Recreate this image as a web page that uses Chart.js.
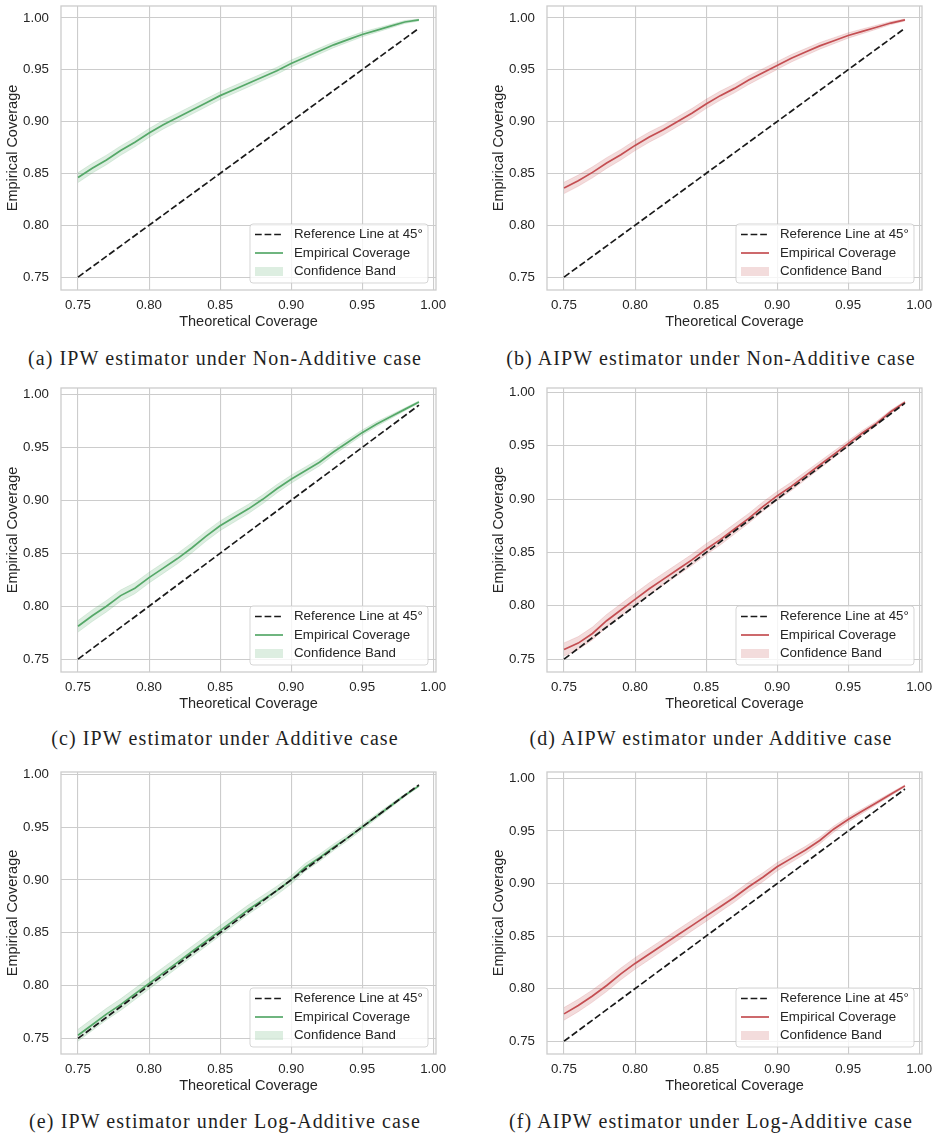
<!DOCTYPE html>
<html>
<head>
<meta charset="utf-8">
<script src="https://cdn.jsdelivr.net/npm/chart.js@4.4.1/dist/chart.umd.min.js"></script>
<style>
  body { margin: 0; background: #fff; }
  #page { position: relative; width: 939px; height: 1140px; overflow: hidden; }
  canvas { position: absolute; }
  .caption {
    position: absolute; width: 450px; text-align: center; white-space: nowrap;
    font-family: 'Liberation Serif', serif; font-size: 20px; line-height: 20px;
    letter-spacing: 1.1px; color: #1f1f1f;
  }
</style>
</head>
<body>
<div id="page">
  <canvas id="chartA" width="450" height="335" style="left:0;top:0"></canvas>
  <canvas id="chartB" width="450" height="335" style="left:486px;top:0"></canvas>
  <canvas id="chartC" width="450" height="335" style="left:0;top:382px"></canvas>
  <canvas id="chartD" width="450" height="335" style="left:486px;top:382px"></canvas>
  <canvas id="chartE" width="450" height="333" style="left:0;top:766px"></canvas>
  <canvas id="chartF" width="450" height="333" style="left:486px;top:766px"></canvas>
  <div class="caption" style="left:0;top:348px">(a) IPW estimator under Non-Additive case</div>
  <div class="caption" style="left:486px;top:348px">(b) AIPW estimator under Non-Additive case</div>
  <div class="caption" style="left:0;top:728px">(c) IPW estimator under Additive case</div>
  <div class="caption" style="left:486px;top:728px">(d) AIPW estimator under Additive case</div>
  <div class="caption" style="left:0;top:1111px">(e) IPW estimator under Log-Additive case</div>
  <div class="caption" style="left:486px;top:1111px">(f) AIPW estimator under Log-Additive case</div>
</div>
<script>
// theoretical coverage levels (x axis)
const theoretical = [0.75, 0.76, 0.77, 0.78, 0.79, 0.80, 0.81, 0.82, 0.83, 0.84, 0.85, 0.86, 0.87,
                     0.88, 0.89, 0.90, 0.91, 0.92, 0.93, 0.94, 0.95, 0.96, 0.97, 0.98, 0.99];
const refX = [0.75, 0.99];
const refY = [0.75, 0.99];
const xTicks = [0.75, 0.80, 0.85, 0.90, 0.95, 1.00];
const yTicks = [0.75, 0.80, 0.85, 0.90, 0.95, 1.00];

// empirical coverage + half width of the confidence band, per panel
const ipwNonAdd = [0.846, 0.855, 0.863, 0.872, 0.880, 0.889, 0.897, 0.904, 0.911, 0.918, 0.925, 0.931, 0.937,
                   0.943, 0.949, 0.956, 0.962, 0.968, 0.974, 0.979, 0.984, 0.988, 0.992, 0.996, 0.998];
const ipwNonAddHalf = [0.0048, 0.0047, 0.0046, 0.0045, 0.0044, 0.0043, 0.0042, 0.0041, 0.0040, 0.0039, 0.0038, 0.0037, 0.0036,
                       0.0035, 0.0034, 0.0033, 0.0031, 0.0029, 0.0027, 0.0025, 0.0023, 0.0020, 0.0017, 0.0014, 0.0010];

const aipwNonAdd = [0.836, 0.843, 0.851, 0.860, 0.868, 0.877, 0.885, 0.892, 0.900, 0.908, 0.917, 0.925, 0.932,
                    0.940, 0.947, 0.954, 0.961, 0.967, 0.973, 0.978, 0.983, 0.987, 0.991, 0.995, 0.998];
const aipwNonAddHalf = [0.0055, 0.0054, 0.0053, 0.0052, 0.0051, 0.0050, 0.0049, 0.0048, 0.0047, 0.0046, 0.0045, 0.0044, 0.0043,
                        0.0042, 0.0040, 0.0038, 0.0036, 0.0034, 0.0032, 0.0029, 0.0026, 0.0023, 0.0019, 0.0015, 0.0010];

const ipwAdd = [0.781, 0.791, 0.800, 0.810, 0.817, 0.827, 0.836, 0.845, 0.855, 0.866, 0.876, 0.884, 0.892,
                0.901, 0.911, 0.920, 0.928, 0.936, 0.946, 0.955, 0.964, 0.972, 0.979, 0.986, 0.993];
const ipwAddHalf = [0.0055, 0.0055, 0.0054, 0.0053, 0.0052, 0.0051, 0.0050, 0.0049, 0.0048, 0.0047, 0.0046, 0.0045, 0.0044,
                    0.0042, 0.0040, 0.0038, 0.0036, 0.0034, 0.0031, 0.0028, 0.0025, 0.0022, 0.0018, 0.0014, 0.0010];

const aipwAdd = [0.759, 0.765, 0.774, 0.786, 0.796, 0.806, 0.816, 0.825, 0.834, 0.843, 0.853, 0.862, 0.872,
                 0.882, 0.893, 0.903, 0.912, 0.922, 0.932, 0.942, 0.952, 0.962, 0.971, 0.982, 0.991];
const aipwAddHalf = [0.0062, 0.0061, 0.0060, 0.0059, 0.0058, 0.0057, 0.0056, 0.0055, 0.0054, 0.0053, 0.0052, 0.0050, 0.0048,
                     0.0046, 0.0044, 0.0042, 0.0040, 0.0037, 0.0034, 0.0031, 0.0028, 0.0024, 0.0020, 0.0016, 0.0011];

const ipwLogAdd = [0.753, 0.763, 0.773, 0.782, 0.792, 0.802, 0.812, 0.822, 0.832, 0.842, 0.852, 0.862, 0.872,
                   0.881, 0.890, 0.900, 0.912, 0.921, 0.931, 0.940, 0.950, 0.960, 0.970, 0.980, 0.989];
const ipwLogAddHalf = [0.0056, 0.0056, 0.0055, 0.0055, 0.0054, 0.0053, 0.0052, 0.0051, 0.0050, 0.0049, 0.0048, 0.0047, 0.0045,
                       0.0043, 0.0041, 0.0039, 0.0037, 0.0034, 0.0031, 0.0028, 0.0025, 0.0022, 0.0018, 0.0014, 0.0010];

const aipwLogAdd = [0.776, 0.784, 0.793, 0.803, 0.814, 0.824, 0.833, 0.842, 0.851, 0.860, 0.869, 0.878, 0.887,
                    0.897, 0.906, 0.916, 0.924, 0.932, 0.941, 0.952, 0.961, 0.969, 0.977, 0.985, 0.993];
const aipwLogAddHalf = [0.0060, 0.0059, 0.0058, 0.0057, 0.0056, 0.0055, 0.0054, 0.0053, 0.0052, 0.0051, 0.0050, 0.0048, 0.0046,
                        0.0044, 0.0042, 0.0040, 0.0038, 0.0035, 0.0032, 0.0029, 0.0026, 0.0022, 0.0018, 0.0014, 0.0010];

Chart.defaults.font.family = "'Liberation Sans', Arial, sans-serif";
Chart.defaults.color = '#262626';

const GREEN = '#55a868';
const RED = '#c44e52';
const GREEN_BAND = 'rgba(85, 168, 104, 0.2)';
const RED_BAND = 'rgba(196, 78, 82, 0.2)';

// light grey box round the plot area, like the seaborn whitegrid spines
const framePlugin = {
    id: 'frame',
    beforeDatasetsDraw(chart) {
        const { ctx, chartArea: a } = chart;
        ctx.save();
        ctx.strokeStyle = '#cccccc';
        ctx.lineWidth = 1.3;
        ctx.strokeRect(a.left, a.top, a.right - a.left, a.bottom - a.top);
        ctx.restore();
    }
};

// matplotlib style legend in the lower right corner
const boxLegend = {
    id: 'boxLegend',
    afterDraw(chart) {
        const { ctx, chartArea: a } = chart;
        const w = 178, h = 59;
        const left = a.right - 8 - w;
        const top = a.bottom - 7 - h;
        ctx.save();
        ctx.beginPath();
        ctx.roundRect(left, top, w, h, 3);
        ctx.fillStyle = 'rgba(255, 255, 255, 0.8)';
        ctx.fill();
        ctx.strokeStyle = 'rgba(204, 204, 204, 0.8)';
        ctx.lineWidth = 1;
        ctx.stroke();

        const items = chart.data.datasets.filter(d => d.label);
        items.forEach((d, i) => {
            const y = top + 10.5 + i * 18.5;
            if (d.fill) {
                ctx.fillStyle = d.backgroundColor;
                ctx.fillRect(left + 5, y - 4.5, 28, 9);
            } else {
                ctx.beginPath();
                ctx.setLineDash(d.borderDash || []);
                ctx.strokeStyle = d.borderColor;
                ctx.lineWidth = d.borderWidth;
                ctx.moveTo(left + 5, y);
                ctx.lineTo(left + 33, y);
                ctx.stroke();
                ctx.setLineDash([]);
            }
            ctx.fillStyle = '#262626';
            ctx.font = "13.3px 'Liberation Sans', Arial, sans-serif";
            ctx.textBaseline = 'middle';
            ctx.textAlign = 'left';
            ctx.fillText(d.label, left + 44, y);
        });
        ctx.restore();
    }
};

function makePanel(id, empirical, half, color, band) {
    const lower = empirical.map((v, i) => v - half[i]);
    const upper = empirical.map((v, i) => v + half[i]);
    const pts = ys => ys.map((v, i) => ({ x: theoretical[i], y: v }));

    // axis limits with a 5% margin, as matplotlib does
    const all = lower.concat(upper, refY);
    const yLo = Math.min(...all), yHi = Math.max(...all);
    const yPad = (yHi - yLo) * 0.05;
    const xLo = theoretical[0], xHi = theoretical[theoretical.length - 1];
    const xPad = (xHi - xLo) * 0.05;

    return new Chart(document.getElementById(id), {
        type: 'line',
        data: {
            datasets: [
                {
                    label: 'Reference Line at 45°',
                    data: refX.map((x, i) => ({ x: x, y: refY[i] })),
                    borderColor: '#1a1a1a',
                    borderWidth: 1.7,
                    borderDash: [6.7, 2.9],
                    pointRadius: 0,
                    fill: false
                },
                {
                    label: 'Empirical Coverage',
                    data: pts(empirical),
                    borderColor: color,
                    borderWidth: 1.7,
                    pointRadius: 0,
                    fill: false
                },
                {
                    label: '',
                    data: pts(lower),
                    borderColor: band,
                    borderWidth: 0.8,
                    pointRadius: 0,
                    fill: false
                },
                {
                    label: 'Confidence Band',
                    data: pts(upper),
                    borderColor: band,
                    backgroundColor: band,
                    borderWidth: 0.8,
                    pointRadius: 0,
                    fill: '-1'
                }
            ]
        },
        options: {
            responsive: false,
            animation: false,
            devicePixelRatio: 1,
            layout: { padding: { top: 6, right: 14, bottom: 0, left: 0 } },
            elements: { line: { tension: 0 } },
            plugins: { legend: { display: false }, tooltip: { enabled: false } },
            scales: {
                x: {
                    type: 'linear',
                    min: xLo - xPad,
                    max: xHi + xPad,
                    afterBuildTicks: s => { s.ticks = xTicks.map(v => ({ value: v })); },
                    afterFit: s => { s.height = 45; s.paddingLeft = 0; s.paddingRight = 0; },
                    ticks: {
                        autoSkip: false, maxRotation: 0, padding: 7,
                        font: { size: 13.3 },
                        callback: v => Number(v).toFixed(2)
                    },
                    grid: { color: '#cccccc', lineWidth: 1.1, drawTicks: false },
                    border: { display: false },
                    title: {
                        display: true, text: 'Theoretical Coverage',
                        font: { size: 14.5 }, padding: { top: 0, bottom: 4.8 }
                    }
                },
                y: {
                    type: 'linear',
                    min: yLo - yPad,
                    max: yHi + yPad,
                    afterBuildTicks: s => { s.ticks = yTicks.map(v => ({ value: v })); },
                    afterFit: s => { s.width = 61; s.paddingTop = 0; s.paddingBottom = 0; },
                    ticks: {
                        autoSkip: false, padding: 12,
                        font: { size: 13.3 },
                        callback: v => Number(v).toFixed(2)
                    },
                    grid: { color: '#cccccc', lineWidth: 1.1, drawTicks: false },
                    border: { display: false },
                    title: {
                        display: true, text: 'Empirical Coverage',
                        font: { size: 14.5 }, padding: { top: 4.2, bottom: 0 }
                    }
                }
            }
        },
        plugins: [framePlugin, boxLegend]
    });
}

makePanel('chartA', ipwNonAdd, ipwNonAddHalf, GREEN, GREEN_BAND);
makePanel('chartB', aipwNonAdd, aipwNonAddHalf, RED, RED_BAND);
makePanel('chartC', ipwAdd, ipwAddHalf, GREEN, GREEN_BAND);
makePanel('chartD', aipwAdd, aipwAddHalf, RED, RED_BAND);
makePanel('chartE', ipwLogAdd, ipwLogAddHalf, GREEN, GREEN_BAND);
makePanel('chartF', aipwLogAdd, aipwLogAddHalf, RED, RED_BAND);
</script>
</body>
</html>
